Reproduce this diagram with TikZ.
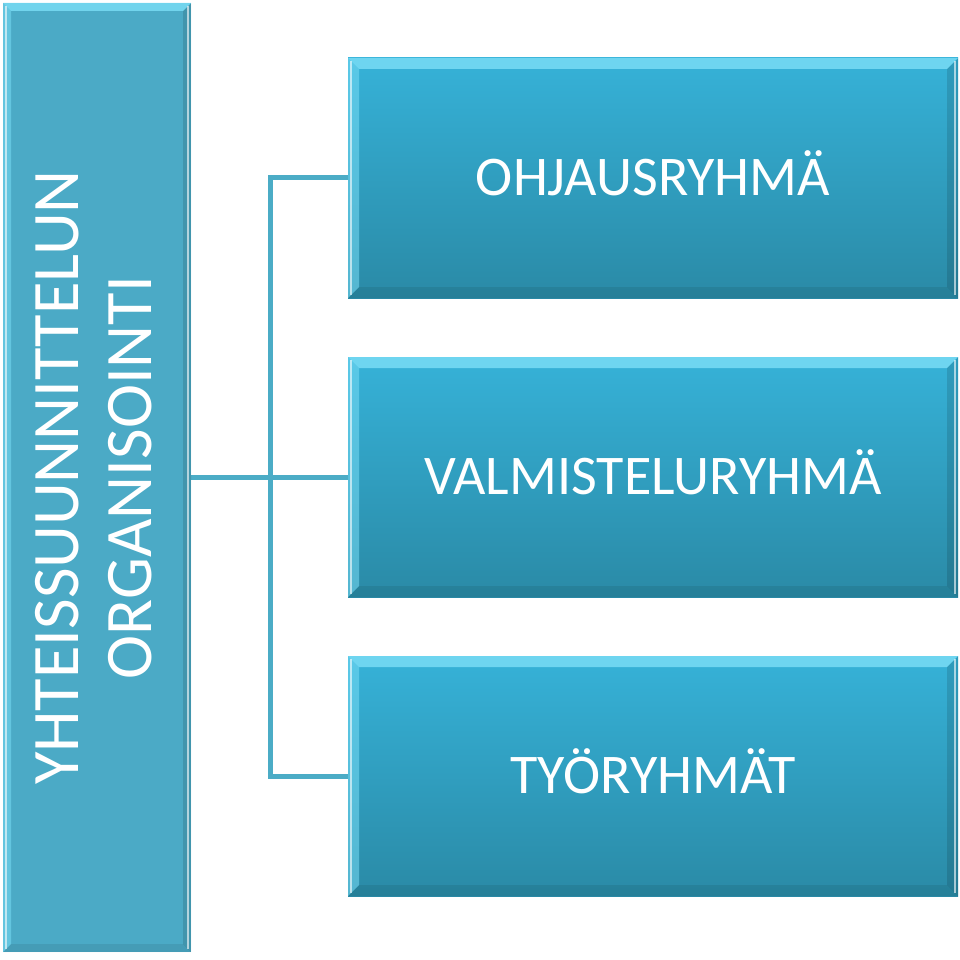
\documentclass[tikz,border=0pt]{standalone}
\usepackage{fontspec}
\setmainfont{Carlito}
\usetikzlibrary{positioning, calc}
\definecolor{orgaqua}{RGB}{75, 170, 198}
\definecolor{orgtop}{RGB}{54, 178, 216}
\definecolor{orgbottom}{RGB}{42, 138, 166}
\definecolor{orgline}{RGB}{75, 172, 198}
\definecolor{orglight}{RGB}{120, 220, 245}

\begin{document}
\begin{tikzpicture}[
      x=1pt, y=-1pt,
      bevel/.style={path picture={
        \fill[orglight, opacity=0.85] let \p1=(path picture bounding box.north west), \p2=(path picture bounding box.south east) in
          (\x1,\y1) -- (\x2,\y1) -- (\x2-#1,\y1-#1) -- (\x1+#1,\y1-#1) -- cycle;
        \fill[orglight, opacity=0.55] let \p1=(path picture bounding box.north west), \p2=(path picture bounding box.south east) in
          (\x1,\y1) -- (\x1+#1,\y1-#1) -- (\x1+#1,\y2+#1) -- (\x1,\y2) -- cycle;
        \fill[black, opacity=0.08] let \p1=(path picture bounding box.north west), \p2=(path picture bounding box.south east) in
          (\x1,\y2) -- (\x1+#1,\y2+#1) -- (\x2-#1,\y2+#1) -- (\x2,\y2) -- cycle;
        \fill[black, opacity=0.12] let \p1=(path picture bounding box.north west), \p2=(path picture bounding box.south east) in
          (\x2,\y1) -- (\x2-#1,\y1-#1) -- (\x2-#1,\y2+#1) -- (\x2,\y2) -- cycle;
        \draw[white, opacity=0.6, line width=2pt] let \p1=(path picture bounding box.north west), \p2=(path picture bounding box.south east) in
          (\x1+3pt,\y1-3pt) -- (\x1+3pt,\y2+3pt) (\x2-3pt,\y1-3pt) -- (\x2-3pt,\y2+3pt);
      }},
      sidebox/.style={rectangle, fill=orgaqua, bevel=8pt, minimum width=188pt, minimum height=949pt, inner sep=0pt},
      groupbox/.style={rectangle, top color=orgtop, bottom color=orgbottom, bevel=11pt, minimum width=610pt, minimum height=240pt, inner sep=0pt,
        text=white, text height=40pt, text depth=6pt, font=\fontsize{56}{66}\selectfont},
      conn/.style={line width=5pt, orgline}
    ]
      \useasboundingbox (0,0) rectangle (960,960);

      \draw[conn] (191,477) -- (348,477);
      \draw[conn] (348,178) -- (270,178) -- (270,776) -- (348,776);

      \node[sidebox] (organisointi) at (97,477.5) {};
      \node[rotate=90, text=white, align=center, font=\fontsize{66.5}{73}\selectfont] (orgtext) at ([xshift=-3pt]organisointi.center) {YHTEISSUUNNITTELUN\\ORGANISOINTI};

      \node[groupbox] (ohjaus) at (653,178) {OHJAUSRYHMÄ};
      \node[groupbox] (valmistelu) at (653,477) {VALMISTELURYHMÄ};
      \node[groupbox] (tyoryhmat) at (653,776) {TYÖRYHMÄT};
    \end{tikzpicture}
\end{document}
